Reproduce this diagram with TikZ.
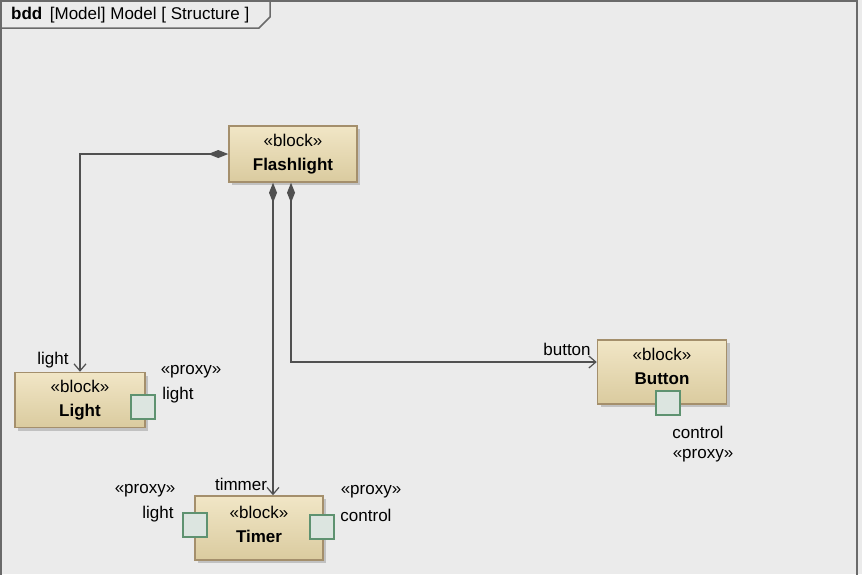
\documentclass[tikz,border=0pt]{standalone}
\usepackage{fontspec}
\setmainfont{Liberation Sans}
\usetikzlibrary{arrows.meta,shadows}
\definecolor{bgcol}{HTML}{EBEBEB}
\definecolor{framecol}{HTML}{6A6A6A}
\definecolor{blocktop}{HTML}{F1E6C6}
\definecolor{blockbot}{HTML}{DACB9F}
\definecolor{blockedge}{HTML}{A48F6C}
\definecolor{portfill}{HTML}{DCE5E0}
\definecolor{portedge}{HTML}{5E9270}
\definecolor{linecol}{HTML}{505050}
\tikzset{block/.style = {draw=blockedge, line width=1.5pt, top color=blocktop, bottom color=blockbot, rectangle,
                         minimum width=128pt, minimum height=56pt, align=center,
                         font=\fontsize{17}{24}\selectfont,
                         drop shadow={shadow xshift=3pt, shadow yshift=-3pt, fill=black!35, opacity=0.6}},
         port/.style={draw=portedge, line width=1.2pt, fill=portfill, rectangle, minimum size=24pt, inner sep=0pt},
         lbl/.style={inner sep=1pt, font=\fontsize{17}{20}\selectfont},
         compo/.style={draw=linecol, line width=1.4pt, {Diamond[length=20pt,width=8pt,fill=linecol]}-{Straight Barb[length=7pt,width=12pt,line width=1.2pt]}}}

\begin{document}
\begin{tikzpicture}[x=1pt,y=-1pt]
    \useasboundingbox (0,0) rectangle (862,574);
    \fill[bgcol](0,0) rectangle (862,574);

    % frame and title tab
    \draw[framecol, line width=2pt](1,580)--(1,1)--(857,1)--(857,580);
    \draw[framecol, line width=1.5pt](1,28)--(259,28)--(270,17)--(270,1);
    \node[lbl, anchor=west](title)at(10,15){\textbf{bdd}\ \,[Model] Model [ Structure ]};

    % blocks
    \node[block](flash)at(293,154){«block»\\\textbf{Flashlight}};
    \node[block, minimum width=130pt, minimum height=55pt](lamp)at(80,400){«block»\\\textbf{Light}};
    \node[block, minimum height=64pt](timer)at(259,528){«block»\\\textbf{Timer}\\[-16pt]\mbox{}};
    \node[block, minimum width=129pt, minimum height=64pt](button)at(662,372){«block»\\\textbf{Button}\\[-12pt]\mbox{}};

    % ports
    \node[port](plight)at(143,407){};
    \node[port](tlight)at(195,525){};
    \node[port](tctrl)at(322,527){};
    \node[port](bctrl)at(668,403){};

    % parts
    \draw[compo](flash.west)-|(lamp.north);
    \draw[compo]([xshift=-20pt]flash.south)--([xshift=-20pt]flash.south |- timer.north);
    \draw[compo]([xshift=-2pt]flash.south)|-([yshift=10pt]button.west);

    % role names
    \node[lbl](rlight)at(53,360){light};
    \node[lbl](rtimer)at(241,484){timmer};
    \node[lbl](rbutton)at(567,349){button};

    % port labels
    \node[lbl](plightst)at(191,372){«proxy»};
    \node[lbl](plightnm)at(178,395){light};
    \node[lbl](tlightst)at(145,491){«proxy»};
    \node[lbl](tlightnm)at(158,514){light};
    \node[lbl](tctrlst)at(371,492){«proxy»};
    \node[lbl](tctrlnm)at(366,515){control};
    \node[lbl](bctrlnm)at(698,432){control};
    \node[lbl](bctrlst)at(703,456){«proxy»};
\end{tikzpicture}
\end{document}
